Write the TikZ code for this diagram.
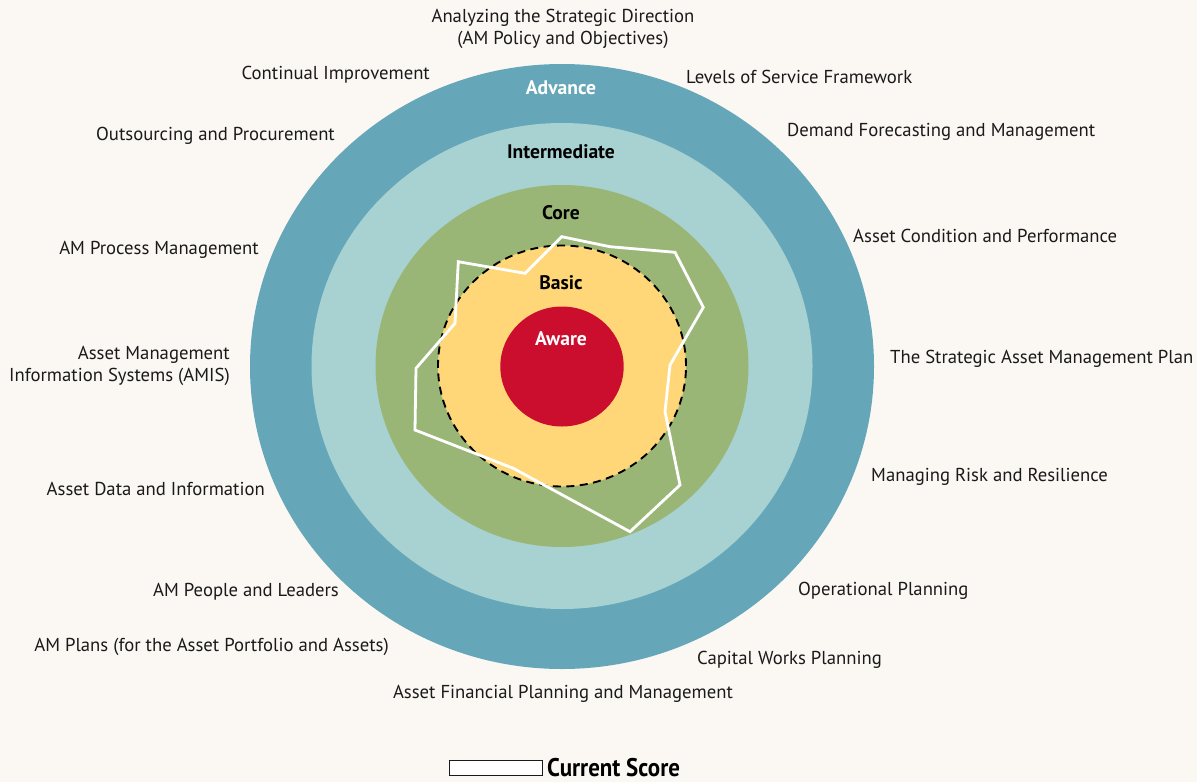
\documentclass[tikz,border=0pt]{standalone}
\usepackage{fontspec}
\setmainfont{PT Sans}
\newfontfamily\scorefont[FakeStretch=0.9]{PT Sans}

\definecolor{bgcream}{HTML}{FBF8F4}
\definecolor{advblue}{HTML}{65A7B9}
\definecolor{intblue}{HTML}{A8D2D2}
\definecolor{coregreen}{HTML}{9AB676}
\definecolor{basicyellow}{HTML}{FFD779}
\definecolor{awarered}{HTML}{CC0E2E}
\definecolor{labelgray}{HTML}{1A1A1A}

\begin{document}
\begin{tikzpicture}[x=1pt,y=-1pt,
  lbl/.style={font=\fontsize{18.7}{22}\selectfont, text=labelgray, inner sep=0pt},
  ringlbl/.style={font=\fontsize{19.6}{22}\selectfont\bfseries, inner sep=0pt}]

% Background and size
\useasboundingbox[fill=bgcream] (0,0) rectangle (1197,782);

% Draw the rings
\fill[advblue] (562,366.5) ellipse[x radius=312pt, y radius=302.5pt];
\fill[intblue] (562,366) ellipse[x radius=250.5pt, y radius=243pt];
\fill[coregreen] (562,366) ellipse[x radius=186.5pt, y radius=181pt];
\fill[basicyellow] (562,366) ellipse[x radius=124pt, y radius=120.5pt];
\draw[black, line width=1.9pt, dash pattern=on 8pt off 5.5pt] (562,366) ellipse[x radius=124pt, y radius=120.5pt];
\fill[awarered] (562,366.5) ellipse[x radius=61.7pt, y radius=60pt];

% Ring names
\node[ringlbl, text=white] (advance) at (561,88) {Advance};
\node[ringlbl] (intermediate) at (561,152) {Intermediate};
\node[ringlbl] (core) at (561,213) {Core};
\node[ringlbl] (basic) at (561,283) {Basic};
\node[ringlbl, text=white] (aware) at (561,339) {Aware};

% Current score
\draw[white, line width=2.8pt, line join=miter]
  (561.7,236.7) -- (610,246.7) -- (675,252.3) -- (703.3,307.3) -- (670,365)
  -- (665,411.7) -- (680,485) -- (630,531.7) -- (513.3,468.3) -- (415,430)
  -- (416,368.3) -- (455,323.3) -- (458.3,261.7) -- (525,273.3) -- cycle;

% Element labels, right side
\node[lbl, align=center] (strategic) at (563,29) {Analyzing the Strategic Direction\\(AM Policy and Objectives)};
\node[lbl, anchor=west] (levels) at (686,77) {Levels of Service Framework};
\node[lbl, anchor=west] (demand) at (787,132) {Demand Forecasting and Management};
\node[lbl, anchor=west] (condition) at (853,236) {Asset Condition and Performance};
\node[lbl, anchor=west] (samp) at (890,359) {The Strategic Asset Management Plan};
\node[lbl, anchor=west] (risk) at (871,477) {Managing Risk and Resilience};
\node[lbl, anchor=west] (operational) at (798,591) {Operational Planning};
\node[lbl, anchor=west] (capital) at (697,660) {Capital Works Planning};
\node[lbl] (financial) at (563,694) {Asset Financial Planning and Management};

% Element labels, left side
\node[lbl, anchor=east] (amplans) at (389,647) {AM Plans (for the Asset Portfolio and Assets)};
\node[lbl, anchor=east] (people) at (339,592) {AM People and Leaders};
\node[lbl, anchor=east] (data) at (265,489) {Asset Data and Information};
\node[lbl, anchor=east, align=right] (amis) at (230,366) {Asset Management\\Information Systems (AMIS)};
\node[lbl, anchor=east] (process) at (259,250) {AM Process Management};
\node[lbl, anchor=east] (outsourcing) at (335,136) {Outsourcing and Procurement};
\node[lbl, anchor=east] (improvement) at (430,75) {Continual Improvement};

% Legend
\draw[fill=white, draw=labelgray, line width=0.8pt] (449,760) rectangle (542,775);
\node[anchor=west, inner sep=0pt, font=\scorefont\fontsize{25.5}{28}\selectfont\bfseries] (legend) at (547,768) {Current Score};

\end{tikzpicture}
\end{document}
